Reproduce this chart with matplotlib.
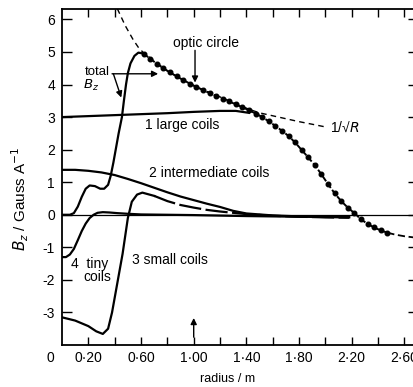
import matplotlib
matplotlib.use("Agg")
import matplotlib.pyplot as plt

plt.rcParams['font.family'] = ['Liberation Sans', 'DejaVu Sans']

# total Bz, solid part (m, Gauss/A)
total_x = [0.0, 0.06, 0.09, 0.12, 0.15, 0.18, 0.21, 0.25, 0.29, 0.32, 0.35, 0.37, 0.39,
           0.41, 0.43, 0.455, 0.47, 0.486, 0.50, 0.52, 0.55, 0.58, 0.62]
total_y = [0.0, 0.0, 0.05, 0.25, 0.55, 0.8, 0.9, 0.88, 0.8, 0.8, 0.92, 1.2, 1.6,
           2.05, 2.5, 3.0, 3.5, 4.0, 4.35, 4.65, 4.88, 4.98, 4.95]

# total Bz on the optic circle (dotted with markers)
orbit_x = [0.62, 0.67, 0.72, 0.77, 0.82, 0.87, 0.92, 0.97, 1.02, 1.07, 1.12, 1.17, 1.22,
           1.27, 1.32, 1.37, 1.42, 1.47, 1.52, 1.57, 1.62, 1.67, 1.72, 1.77, 1.82, 1.87,
           1.92, 1.97, 2.02, 2.07, 2.12, 2.17, 2.22, 2.27, 2.32, 2.37, 2.42, 2.47]
orbit_y = [4.95, 4.79, 4.64, 4.50, 4.37, 4.25, 4.14, 4.03, 3.93, 3.83, 3.74, 3.65, 3.56,
           3.48, 3.39, 3.30, 3.21, 3.11, 3.00, 2.87, 2.73, 2.58, 2.42, 2.22, 1.99, 1.76,
           1.52, 1.24, 0.94, 0.66, 0.42, 0.22, 0.05, -0.14, -0.28, -0.39, -0.48, -0.55]
tail_x = [2.47, 2.53, 2.60, 2.68]
tail_y = [-0.55, -0.61, -0.66, -0.70]

# 1/sqrt(R) reference
inv_x = [0.42, 0.48, 0.54, 0.58, 0.62, 0.80, 1.00, 1.20, 1.42, 1.50, 1.60, 1.70, 1.80, 1.90, 2.01]
inv_y = [6.33, 5.81, 5.38, 5.14, 4.97, 4.42, 3.96, 3.62, 3.24, 3.13, 3.04, 2.95, 2.86, 2.78, 2.69]

# 1 large coils
large_x = [0.0, 0.2, 0.4, 0.6, 0.8, 1.0, 1.2, 1.32, 1.42]
large_y = [3.0, 3.03, 3.06, 3.09, 3.12, 3.16, 3.19, 3.19, 3.13]

# 2 intermediate coils
inter_x = [0.0, 0.1, 0.2, 0.3, 0.4, 0.5, 0.6, 0.7, 0.8, 0.9, 1.0, 1.1, 1.2, 1.3, 1.4,
           1.6, 1.8, 2.0, 2.18]
inter_y = [1.38, 1.38, 1.35, 1.30, 1.22, 1.10, 0.97, 0.83, 0.69, 0.56, 0.45, 0.34, 0.24,
           0.12, 0.04, -0.02, -0.05, -0.07, -0.08]

# 3 small coils
small_x = [0.0, 0.1, 0.2, 0.26, 0.31, 0.35, 0.38, 0.42, 0.46, 0.50, 0.53, 0.57, 0.61, 0.70]
small_y = [-3.15, -3.25, -3.42, -3.58, -3.66, -3.5, -3.0, -2.1, -1.2, -0.1, 0.4, 0.62,
           0.68, 0.58]
small_tail_x = [0.70, 0.8, 0.9, 1.0, 1.1, 1.2, 1.3, 1.4, 1.6, 1.8, 2.0, 2.18]
small_tail_y = [0.58, 0.42, 0.30, 0.22, 0.15, 0.10, 0.06, 0.02, -0.03, -0.06, -0.08, -0.09]

# 4 tiny coils
tiny_x = [0.0, 0.03, 0.06, 0.09, 0.12, 0.15, 0.18, 0.21, 0.24, 0.27, 0.31, 0.36, 0.42,
          0.5, 0.6, 0.8, 1.0, 1.4, 1.8, 2.18]
tiny_y = [-1.3, -1.3, -1.22, -1.05, -0.78, -0.5, -0.27, -0.1, 0.0, 0.06, 0.08, 0.07, 0.05,
          0.03, 0.01, 0.0, -0.01, -0.04, -0.06, -0.07]

xticks = [0.2, 0.4, 0.6, 0.8, 1.0, 1.2, 1.4, 1.6, 1.8, 2.0, 2.2, 2.4, 2.6]
xlabels = ['0·20', '', '0·60', '', '1·00', '', '1·40', '', '1·80', '', '2·20', '', '2·60']
yticks = [-3, -2, -1, 0, 1, 2, 3, 4, 5, 6]
ylabels = ['-3', '-2', '-1', '0', '1', '2', '3', '4', '5', '6']

W, H = 414, 387
fig = plt.figure(figsize=(W / 100, H / 100), dpi=100)
ax = fig.add_axes([62 / W, 42 / H, 355.6 / W, 336 / H])
ax.set_xlim(0, 2.70)
ax.set_ylim(-4.0, 6.32)

lw = 1.6
ax.axhline(0, color='black', lw=0.9)
ax.plot(total_x, total_y, color='black', lw=lw)
ax.plot(orbit_x, orbit_y, color='black', lw=1.4, ls=(0, (3, 1.2)), marker='o', ms=3.3)
ax.plot(tail_x, tail_y, color='black', lw=1.3, ls=(0, (4, 2)))
ax.plot(inv_x, inv_y, color='black', lw=1.0, ls=(0, (4, 3)))
ax.plot(large_x, large_y, color='black', lw=lw)
ax.plot(inter_x, inter_y, color='black', lw=lw)
ax.plot(small_x, small_y, color='black', lw=lw)
ax.plot(small_tail_x, small_tail_y, color='black', lw=lw, ls=(0, (10, 2)))
ax.plot(tiny_x, tiny_y, color='black', lw=lw)

fs = 10
arrow = dict(arrowstyle='-|>', color='black', lw=1.0, mutation_scale=9, shrinkA=0, shrinkB=0)
ax.text(1.09, 5.29, 'optic circle', fontsize=fs, ha='center', va='center')
ax.annotate('', xy=(1.01, 4.06), xytext=(1.01, 5.05), arrowprops=arrow)
ax.text(2.15, 2.68, '1/√$R$', fontsize=fs, ha='center', va='center')
ax.text(0.27, 4.37, 'total', fontsize=fs - 0.5, ha='center', va='center')
ax.text(0.22, 3.97, '$B_z$', fontsize=fs - 0.5, ha='center', va='center')
ax.annotate('', xy=(0.73, 4.33), xytext=(0.38, 4.33), arrowprops=arrow)
ax.annotate('', xy=(0.45, 3.6), xytext=(0.39, 4.33), arrowprops=arrow)
ax.text(0.91, 2.77, '1 large coils', fontsize=fs, ha='center', va='center')
ax.text(1.12, 1.28, '2 intermediate coils', fontsize=fs, ha='center', va='center')
ax.text(0.82, -1.4, '3 small coils', fontsize=fs, ha='center', va='center')
ax.text(0.21, -1.52, '4  tiny', fontsize=fs, ha='center', va='center')
ax.text(0.27, -1.92, 'coils', fontsize=fs, ha='center', va='center')
ax.annotate('', xy=(1.0, -3.17), xytext=(1.0, -3.76), arrowprops=arrow)

ax.set_xticks(xticks)
ax.set_xticklabels(xlabels, fontsize=fs)
ax.set_yticks(yticks)
ax.set_yticklabels(ylabels, fontsize=fs)
ax.tick_params(axis='both', direction='in', top=True, right=True, length=6, width=1.0,
               colors='black', pad=4)
ax.tick_params(axis='y', length=7, pad=5)
ax.annotate('0', xy=(-0.09, 0), xycoords=('data', 'axes fraction'), xytext=(0, -4),
            textcoords='offset points', ha='center', va='top', fontsize=fs,
            annotation_clip=False)
for s in ax.spines.values():
    s.set_linewidth(1.3)

fig.text(20 / W, 1 - 199 / H, '$B_z$ / Gauss A$^{-1}$', rotation=90, fontsize=11,
         ha='center', va='center')
fig.text(228 / W, 1 - 379 / H, 'radius / m', fontsize=9, ha='center', va='center')

fig.savefig('out.png', dpi=100)
